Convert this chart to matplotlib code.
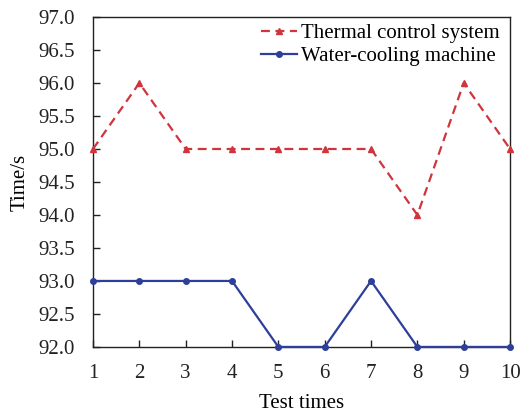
import matplotlib
matplotlib.use('Agg')
import matplotlib.pyplot as plt
import matplotlib.ticker as ticker

plt.rcParams['font.family'] = ['Liberation Serif', 'DejaVu Serif']

test_times = [1, 2, 3, 4, 5, 6, 7, 8, 9, 10]
thermal_control = [95, 96, 95, 95, 95, 95, 95, 94, 96, 95]
water_cooling = [93, 93, 93, 93, 92, 92, 93, 92, 92, 92]

fig = plt.figure(figsize=(5.21, 4.15), dpi=100)
ax = fig.add_axes([0.1785, 0.164, 0.8005, 0.795])

ax.plot(test_times, thermal_control, color='#d0343c', linestyle='--', dashes=(4, 2.5),
        linewidth=1.6, marker='^', markersize=5, label='Thermal control system',
        clip_on=False, zorder=3)
ax.plot(test_times, water_cooling, color='#2e3f9a', linestyle='-',
        linewidth=1.6, marker='o', markersize=4, label='Water-cooling machine',
        clip_on=False, zorder=3)

ax.set_xlim(1, 10)
ax.set_ylim(92, 97)
ax.xaxis.set_major_locator(ticker.MultipleLocator(1))
ax.yaxis.set_major_locator(ticker.MultipleLocator(0.5))
ax.yaxis.set_major_formatter(ticker.FormatStrFormatter('%.1f'))
ax.tick_params(direction='in', length=5, width=1, labelsize=15, colors='#222222')
ax.tick_params(axis='y', pad=13)
ax.tick_params(axis='x', pad=12)

for s in ax.spines.values():
    s.set_linewidth(1)
    s.set_color('#222222')

ax.set_xlabel('Test times', fontsize=15, labelpad=8)
ax.set_ylabel('Time/s', fontsize=15, labelpad=6)

ax.legend(loc='upper right', frameon=False, fontsize=15, handlelength=1.7,
          handletextpad=0.2, labelspacing=0.15, borderaxespad=0.0,
          bbox_to_anchor=(0.995, 1.005))

fig.savefig('out.png', dpi=100)
